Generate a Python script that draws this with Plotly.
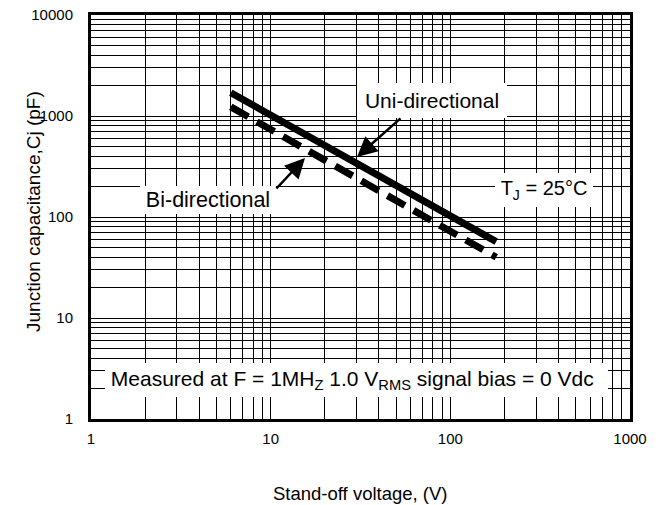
import plotly.graph_objects as go

# ---- data ----
voltage = [6, 10, 20, 50, 100, 180]
uni_cap = [1700, 1020, 510, 204, 102, 57]
bi_cap = [1230, 740, 370, 148, 74, 40]

x_ticks = [1, 10, 100, 1000]
x_ticktext = ["1", "10", "100", "1000"]
y_ticks = [1, 10, 100, 1000, 10000]
y_ticktext = ["1", "10", "100", "1000", "10000"]

W, H = 664, 505
L, R, T, B = 91, 34, 15, 86
PW, PH = W - L - R, H - T - B


def px(x):
    return (x - L) / PW


def py(y):
    return (H - B - y) / PH


FONT = "Liberation Sans, Arial, sans-serif"

fig = go.Figure()
fig.add_trace(go.Scatter(x=voltage, y=uni_cap, mode="lines",
                         line=dict(color="black", width=7), showlegend=False))
fig.add_trace(go.Scatter(x=voltage, y=bi_cap, mode="lines",
                         line=dict(color="black", width=7, dash="20px,10px"),
                         showlegend=False))

axis_common = dict(
    type="log",
    showgrid=True, gridcolor="black", gridwidth=1,
    showline=True, linecolor="black", linewidth=3, mirror=True,
    ticks="", zeroline=False,
    tickfont=dict(family=FONT, size=15, color="black"),
    minor=dict(dtick="D1", showgrid=True, gridcolor="black", gridwidth=1, ticks=""),
)

fig.update_xaxes(range=[0, 3], tickvals=x_ticks, ticktext=x_ticktext,
                 ticklabelstandoff=4, **axis_common)
fig.update_yaxes(range=[0, 4], tickvals=y_ticks, ticktext=y_ticktext,
                 ticklabelstandoff=12, **axis_common)

annos = []


def box(text, x0, x1, y0, y1, size=21, align="center"):
    annos.append(dict(
        text=text, xref="paper", yref="paper",
        x=px((x0 + x1) / 2), y=py((y0 + y1) / 2),
        xanchor="center", yanchor="middle", align=align,
        width=x1 - x0, height=y1 - y0, borderpad=0, borderwidth=0,
        bgcolor="white", showarrow=False,
        font=dict(family=FONT, size=size, color="black")))


box("Uni-directional", 357, 507, 83, 118, size=21)
box("Bi-directional", 140, 276, 186, 214, size=21.5)
box("T<sub>J</sub> = 25°C", 495, 593, 173, 207, size=20)
box(" Measured at F = 1MH<sub>Z</sub> 1.0 V<sub>RMS</sub> signal bias = 0 Vdc",
    105, 608, 363, 397, size=21, align="left")


def arrow(hx, hy, tx, ty):
    annos.append(dict(
        text="", xref="paper", yref="paper", x=px(hx), y=py(hy),
        ax=tx - hx, ay=ty - hy, showarrow=True,
        arrowhead=2, arrowsize=1.6, arrowwidth=2.5, arrowcolor="black"))


arrow(357, 157, 402, 117)
arrow(305, 158, 275, 190)

# axis titles
annos.append(dict(text="Stand-off voltage, (V)", xref="paper", yref="paper",
                  x=px(360), y=py(493), xanchor="center", yanchor="middle",
                  showarrow=False, font=dict(family=FONT, size=18.5, color="black")))
annos.append(dict(text="Junction capacitance,Cj (pF)", xref="paper", yref="paper",
                  x=px(33), y=py(212), xanchor="center", yanchor="middle",
                  textangle=-90, showarrow=False,
                  font=dict(family=FONT, size=19, color="black")))

fig.update_layout(
    width=W, height=H,
    margin=dict(l=L, r=R, t=T, b=B, autoexpand=False),
    paper_bgcolor="white", plot_bgcolor="white",
    annotations=annos,
)

fig.write_html("out.html", config={"displayModeBar": False},
               post_script="document.body.style.margin='0';document.body.style.overflow='hidden';")
